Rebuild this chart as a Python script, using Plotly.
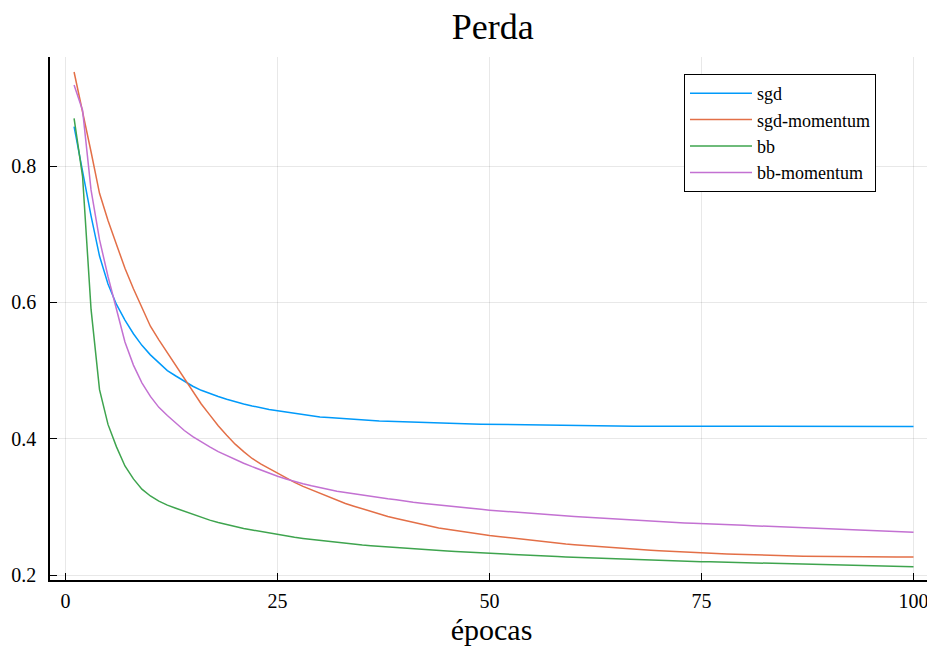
import plotly.graph_objects as go

epochs = list(range(1, 101))

sgd = [0.858, 0.790, 0.727, 0.668, 0.627, 0.597, 0.574, 0.554, 0.537, 0.523,
       0.511, 0.500, 0.492, 0.484, 0.477, 0.471, 0.466, 0.462, 0.458, 0.454,
       0.451, 0.448, 0.445, 0.443, 0.441, 0.439, 0.437, 0.435, 0.434, 0.432,
       0.431, 0.430, 0.429, 0.428, 0.427, 0.4265, 0.426, 0.4255, 0.425, 0.4245,
       0.424, 0.4235, 0.423, 0.4227, 0.4224, 0.4221, 0.4218, 0.4215, 0.4212, 0.421,
       0.4207, 0.4204, 0.4202, 0.420, 0.4198, 0.4196, 0.4194, 0.4192, 0.419, 0.4189,
       0.4188, 0.4187, 0.4186, 0.4185, 0.4185, 0.4184, 0.4184, 0.4183, 0.4183, 0.4183,
       0.4182, 0.4182, 0.4182, 0.4182, 0.4182, 0.4181, 0.4181, 0.4181, 0.4181, 0.4181,
       0.4181, 0.4181, 0.4180, 0.4180, 0.4180, 0.4180, 0.4180, 0.4180, 0.4180, 0.4180,
       0.4180, 0.4180, 0.4180, 0.4180, 0.4180, 0.4180, 0.4180, 0.4180, 0.4180, 0.4180]

sgd_momentum = [0.938, 0.882, 0.821, 0.760, 0.720, 0.685, 0.650, 0.620, 0.592, 0.565,
                0.545, 0.526, 0.507, 0.487, 0.468, 0.451, 0.435, 0.419, 0.405, 0.392,
                0.381, 0.371, 0.363, 0.356, 0.349, 0.342, 0.336, 0.330, 0.325, 0.320,
                0.3145, 0.310, 0.305, 0.301, 0.297, 0.293, 0.289, 0.286, 0.283, 0.280,
                0.277, 0.274, 0.272, 0.269, 0.267, 0.265, 0.263, 0.261, 0.2595, 0.258,
                0.2565, 0.255, 0.2535, 0.252, 0.2505, 0.249, 0.248, 0.2465, 0.2455, 0.2445,
                0.2435, 0.2425, 0.2415, 0.2405, 0.240, 0.239, 0.238, 0.2372, 0.2364, 0.2357,
                0.235, 0.2343, 0.2337, 0.2331, 0.2325, 0.232, 0.2315, 0.231, 0.2305, 0.230,
                0.2296, 0.2292, 0.2288, 0.2285, 0.2282, 0.2279, 0.2277, 0.2275, 0.2273, 0.2271,
                0.227, 0.2269, 0.2268, 0.2267, 0.2266, 0.2265, 0.2265, 0.2264, 0.2264, 0.2264]

bb = [0.870, 0.785, 0.590, 0.472, 0.421, 0.388, 0.360, 0.341, 0.326, 0.316,
      0.3085, 0.3025, 0.298, 0.2935, 0.289, 0.2845, 0.2805, 0.277, 0.2738, 0.271,
      0.2684, 0.266, 0.2638, 0.2617, 0.259, 0.257, 0.2553, 0.2537, 0.2522, 0.2508,
      0.2495, 0.2475, 0.2463, 0.2452, 0.2441, 0.2431, 0.2421, 0.2411, 0.2402, 0.2393,
      0.2384, 0.2375, 0.2367, 0.2359, 0.2351, 0.2344, 0.2337, 0.233, 0.2323, 0.2316,
      0.231, 0.2304, 0.2298, 0.2292, 0.2286, 0.228, 0.2275, 0.227, 0.2265, 0.226,
      0.2255, 0.225, 0.2245, 0.224, 0.2236, 0.2232, 0.2228, 0.2224, 0.222, 0.2216,
      0.2212, 0.2208, 0.2204, 0.22, 0.2196, 0.2193, 0.219, 0.2187, 0.2184, 0.2181,
      0.2178, 0.2175, 0.2172, 0.2169, 0.2166, 0.2163, 0.216, 0.2157, 0.2154, 0.2151,
      0.2148, 0.2145, 0.2142, 0.2139, 0.2136, 0.2133, 0.213, 0.2127, 0.2124, 0.2122]

bb_momentum = [0.919, 0.882, 0.765, 0.692, 0.638, 0.590, 0.542, 0.508, 0.482, 0.462,
               0.446, 0.434, 0.423, 0.412, 0.403, 0.395, 0.388, 0.381, 0.375, 0.369,
               0.364, 0.359, 0.354, 0.349, 0.345, 0.341, 0.337, 0.334, 0.331, 0.328,
               0.3255, 0.323, 0.321, 0.319, 0.317, 0.315, 0.3135, 0.312, 0.3105, 0.308,
               0.3066, 0.3052, 0.3038, 0.3025, 0.3012, 0.300, 0.2988, 0.2976, 0.2964, 0.2952,
               0.2942, 0.2932, 0.2922, 0.2912, 0.2903, 0.2894, 0.2885, 0.2876, 0.2868, 0.286,
               0.2852, 0.2844, 0.2836, 0.2828, 0.2818, 0.281, 0.2803, 0.2796, 0.2789, 0.2782,
               0.2776, 0.277, 0.2764, 0.2758, 0.2755, 0.275, 0.2745, 0.274, 0.2735, 0.273,
               0.2724, 0.2719, 0.2714, 0.2709, 0.2704, 0.2699, 0.2694, 0.2689, 0.2684, 0.2679,
               0.2674, 0.2669, 0.2664, 0.2659, 0.2654, 0.2649, 0.2644, 0.2639, 0.2634, 0.2629]

series_names = ["sgd", "sgd-momentum", "bb", "bb-momentum"]
series_values = [sgd, sgd_momentum, bb, bb_momentum]
colors = ["#009AFA", "#E36F47", "#3EA44E", "#C371D2"]

x_ticks = [0, 25, 50, 75, 100]
y_ticks = [0.2, 0.4, 0.6, 0.8]

FONT = "Liberation Serif"

fig = go.Figure()
for name, vals, col in zip(series_names, series_values, colors):
    fig.add_trace(go.Scatter(x=epochs, y=vals, mode="lines", name=name,
                             line=dict(color=col, width=1.5)))

axis_common = dict(
    showline=True, linecolor="black", linewidth=1.5,
    ticks="inside", ticklen=7, tickwidth=1.2, tickcolor="black",
    showgrid=True, gridcolor="rgba(0,0,0,0.09)", gridwidth=1,
    zeroline=False, mirror=False,
    tickfont=dict(family=FONT, size=20, color="black"),
)

fig.update_layout(
    width=927, height=638,
    paper_bgcolor="white", plot_bgcolor="white",
    margin=dict(l=42, r=2, t=49, b=66, autoexpand=False),
    title=dict(text="Perda", x=0.523, xanchor="center", y=1 - 18 / 638, yanchor="middle",
               font=dict(family=FONT, size=36, color="black")),
    xaxis=dict(range=[-1.84, 102.3], tickvals=x_ticks, ticktext=[str(v) for v in x_ticks],
               title=dict(text="épocas", font=dict(family=FONT, size=30, color="black"), standoff=14),
               ticklabelstandoff=2, **axis_common),
    yaxis=dict(range=[0.1927, 0.960], tickvals=y_ticks, ticktext=[str(v) for v in y_ticks],
               ticklabelstandoff=8, **axis_common),
    legend=dict(x=0.718, y=0.9675, xanchor="left", yanchor="top",
                bgcolor="white", bordercolor="black", borderwidth=1,
                font=dict(family=FONT, size=18, color="black"),
                tracegroupgap=0, itemwidth=62),
    showlegend=True,
)

fig.write_html("out.html")
